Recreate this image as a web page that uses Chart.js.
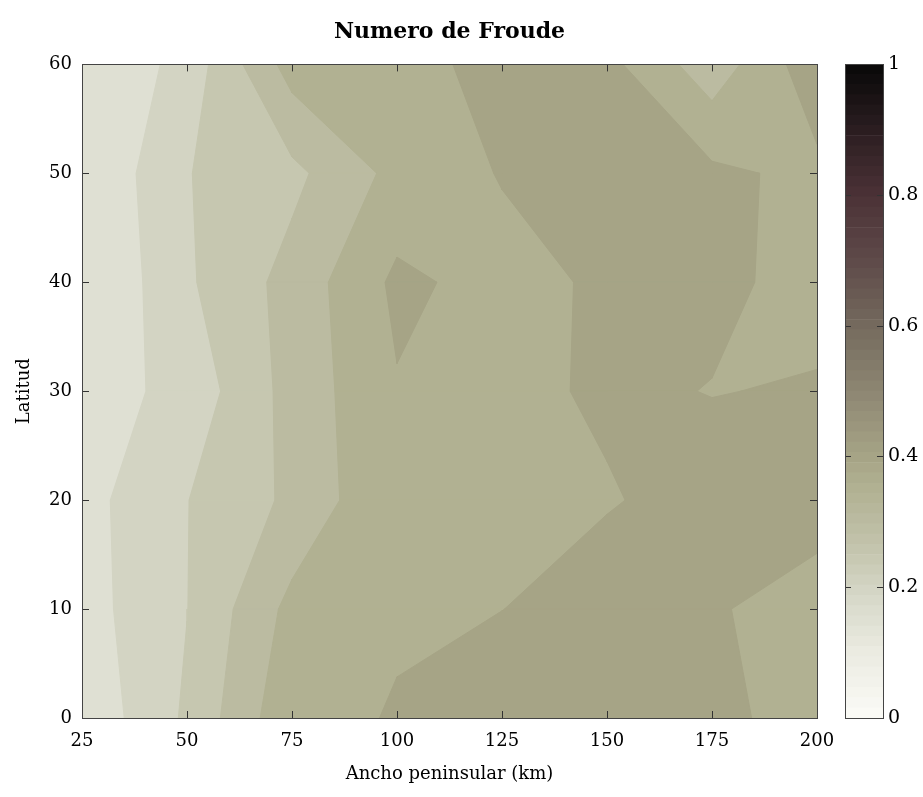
<!DOCTYPE html>
<html>
<head>
<meta charset="utf-8">
<title>Numero de Froude</title>
<script src="https://cdn.jsdelivr.net/npm/chart.js@4.4.1/dist/chart.umd.min.js"></script>
<style>
  body { margin: 0; background: #fff; }
  #wrap { position: relative; width: 923px; height: 797px; overflow: hidden; }
  #froudeChart { position: absolute; left: 0; top: 0; }
  #colorbar { position: absolute; left: 845px; top: 0; }
</style>
</head>
<body>
<div id="wrap">
  <canvas id="froudeChart" width="899" height="797"></canvas>
  <canvas id="colorbar" width="78" height="797"></canvas>
</div>
<script>
// grid of the runs: peninsula width (km) x latitude
const widths = [25, 50, 75, 100, 125, 150, 175, 200];
const latitudes = [0, 10, 20, 30, 40, 50, 60];

// Froude number, one row per latitude
const froude = [
  [0.161, 0.258, 0.390, 0.402, 0.430, 0.430, 0.420, 0.367],   // 0
  [0.179, 0.249, 0.365, 0.3967, 0.3995, 0.420, 0.405, 0.378], // 10
  [0.182, 0.2488, 0.310, 0.398, 0.390, 0.397, 0.4144, 0.421], // 20
  [0.172, 0.218, 0.318, 0.3964, 0.390, 0.4054, 0.3991, 0.4024], // 30
  [0.141, 0.243, 0.318, 0.4105, 0.3829, 0.408, 0.4066, 0.3904], // 40
  [0.149, 0.248, 0.2873, 0.365, 0.403, 0.420, 0.410, 0.388],  // 50
  [0.146, 0.2185, 0.372, 0.385, 0.4132, 0.4145, 0.320, 0.433]  // 60
];

const levels = [0.2, 0.25, 0.3, 0.35, 0.4];
const baseLevel = 0.15;

// colormap anchors (value -> colour)
const cmapStops = [0, 0.1, 0.15, 0.2, 0.25, 0.3, 0.35, 0.4, 0.5, 0.6, 0.7, 0.8, 0.9, 1];
const cmapColors = ['#fbfbf7', '#ebebe1', '#dfe0d3', '#d3d4c3', '#c6c7b0', '#bbbba1', '#b1b192',
                    '#a6a486', '#8d8672', '#746a5d', '#5e4a49', '#4b3136', '#2a1d20', '#080808'];
const cbTicks = [0, 0.2, 0.4, 0.6, 0.8, 1];
const cbSteps = 64;

const serif = "'DejaVu Serif', 'Liberation Serif', serif";

function hexToRgb(h) {
    return [1, 3, 5].map(k => parseInt(h.slice(k, k + 2), 16));
}

function colormap(v) {
    let k = 0;
    while (k < cmapStops.length - 2 && v > cmapStops[k + 1]) k++;
    const t = Math.min(1, Math.max(0, (v - cmapStops[k]) / (cmapStops[k + 1] - cmapStops[k])));
    const a = hexToRgb(cmapColors[k]), b = hexToRgb(cmapColors[k + 1]);
    const c = a.map((ch, n) => Math.round(ch + t * (b[n] - ch)));
    return `rgb(${c[0]},${c[1]},${c[2]})`;
}

function cut(a, b, level) {
    const t = (level - a.z) / (b.z - a.z);
    return { x: a.x + t * (b.x - a.x), y: a.y + t * (b.y - a.y) };
}

// part of cell (i, j) where froude >= level, linear along the edges
function cellPieces(i, j, level) {
    const c = [
        { x: widths[i], y: latitudes[j], z: froude[j][i] },
        { x: widths[i + 1], y: latitudes[j], z: froude[j][i + 1] },
        { x: widths[i + 1], y: latitudes[j + 1], z: froude[j + 1][i + 1] },
        { x: widths[i], y: latitudes[j + 1], z: froude[j + 1][i] }
    ];
    const inside = c.map(p => p.z >= level);
    const n = inside.filter(Boolean).length;
    if (n === 0) return [];

    const saddle = n === 2 && inside[0] === inside[2];
    const centre = (c[0].z + c[1].z + c[2].z + c[3].z) / 4;
    if (saddle && centre < level) {
        // two separate corners
        return [0, 1, 2, 3].filter(k => inside[k]).map(k => {
            const prev = c[(k + 3) % 4], next = c[(k + 1) % 4];
            return [cut(prev, c[k], level), { x: c[k].x, y: c[k].y }, cut(c[k], next, level)];
        });
    }

    const poly = [];
    for (let k = 0; k < 4; k++) {
        const a = c[k], b = c[(k + 1) % 4];
        if (inside[k]) poly.push({ x: a.x, y: a.y });
        if (inside[k] !== inside[(k + 1) % 4]) poly.push(cut(a, b, level));
    }
    return [poly];
}

function polygonDataset(points, color, order) {
    return {
        data: points.concat([points[0]]),
        showLine: true,
        fill: 'shape',
        backgroundColor: color,
        borderColor: color,
        borderWidth: 1,
        pointRadius: 0,
        tension: 0,
        order: order
    };
}

function buildDatasets() {
    const sets = [];
    const xMin = widths[0], xMax = widths[widths.length - 1];
    const yMin = latitudes[0], yMax = latitudes[latitudes.length - 1];
    sets.push(polygonDataset([
        { x: xMin, y: yMin }, { x: xMax, y: yMin }, { x: xMax, y: yMax }, { x: xMin, y: yMax }
    ], colormap(baseLevel), 10));

    levels.forEach((level, k) => {
        const color = colormap(level);
        for (let j = 0; j < latitudes.length - 1; j++) {
            for (let i = 0; i < widths.length - 1; i++) {
                cellPieces(i, j, level).forEach(p => {
                    sets.push(polygonDataset(p, color, levels.length - k));
                });
            }
        }
    });
    return sets;
}

// box and inward ticks on all four sides
const frame = {
    id: 'frame',
    afterDatasetsDraw(chart) {
        const { ctx, chartArea: a, scales } = chart;
        const x = scales.x, y = scales.y;
        ctx.save();
        ctx.lineWidth = 1;
        ctx.strokeStyle = '#333';
        ctx.beginPath();
        if (x.options.display !== false) {
            x.ticks.forEach(t => {
                const px = Math.round(x.getPixelForValue(t.value)) + 0.5;
                ctx.moveTo(px, a.bottom); ctx.lineTo(px, a.bottom - 7);
                ctx.moveTo(px, a.top); ctx.lineTo(px, a.top + 7);
            });
        }
        y.ticks.forEach(t => {
            const py = Math.round(y.getPixelForValue(t.value)) + 0.5;
            const len = chart.canvas.id === 'colorbar' ? 6 : 7;
            ctx.moveTo(a.left, py); ctx.lineTo(a.left + len, py);
            ctx.moveTo(a.right, py); ctx.lineTo(a.right - len, py);
        });
        ctx.stroke();
        ctx.strokeStyle = '#444';
        ctx.strokeRect(Math.round(a.left) + 0.5, Math.round(a.top) + 0.5,
                       Math.round(a.right - a.left), Math.round(a.bottom - a.top));
        ctx.restore();
    }
};

new Chart(document.getElementById('froudeChart'), {
    type: 'scatter',
    data: { datasets: buildDatasets() },
    options: {
        responsive: false,
        animation: false,
        events: [],
        layout: { padding: { left: 0, right: 82, top: 0, bottom: 0 } },
        plugins: {
            legend: { display: false },
            tooltip: { enabled: false },
            title: {
                display: true,
                fullSize: false,
                text: 'Numero de Froude',
                color: '#000',
                font: { family: serif, size: 22, weight: 'bold' },
                padding: { top: 19, bottom: 19 }
            }
        },
        scales: {
            x: {
                type: 'linear',
                min: 25,
                max: 200,
                grid: { display: false, drawTicks: false },
                border: { display: false },
                ticks: { stepSize: 25, color: '#000', padding: 13, font: { family: serif, size: 18 } },
                title: {
                    display: true,
                    text: 'Ancho peninsular (km)',
                    color: '#000',
                    font: { family: serif, size: 18 },
                    padding: { top: 0, bottom: 12 }
                },
                afterFit: scale => { scale.height = 79; }
            },
            y: {
                type: 'linear',
                min: 0,
                max: 60,
                grid: { display: false, drawTicks: false },
                border: { display: false },
                ticks: { stepSize: 10, color: '#000', padding: 10, font: { family: serif, size: 18 } },
                title: {
                    display: true,
                    text: 'Latitud',
                    color: '#000',
                    font: { family: serif, size: 18 },
                    padding: { top: 14, bottom: 0 }
                },
                afterFit: scale => { scale.width = 82; }
            }
        }
    },
    plugins: [frame]
});

// colour bar: stacked slices of the colormap
const cbSets = [];
for (let k = 0; k < cbSteps; k++) {
    cbSets.push({
        data: [1 / cbSteps],
        backgroundColor: colormap((k + 0.5) / cbSteps),
        borderWidth: 0,
        barPercentage: 1,
        categoryPercentage: 1
    });
}

new Chart(document.getElementById('colorbar'), {
    type: 'bar',
    data: { labels: [''], datasets: cbSets },
    options: {
        responsive: false,
        animation: false,
        events: [],
        layout: { padding: { left: 0, right: 0, top: 64, bottom: 79 } },
        plugins: { legend: { display: false }, tooltip: { enabled: false } },
        scales: {
            x: { display: false, stacked: true },
            y: {
                stacked: true,
                position: 'right',
                min: 0,
                max: 1,
                grid: { display: false, drawTicks: false },
                border: { display: false },
                afterBuildTicks: scale => { scale.ticks = cbTicks.map(v => ({ value: v })); },
                ticks: {
                    color: '#000',
                    padding: 5,
                    font: { family: serif, size: 19 },
                    callback: v => String(Math.round(v * 10) / 10)
                },
                afterFit: scale => { scale.width = 40; }
            }
        }
    },
    plugins: [frame]
});
</script>
</body>
</html>
